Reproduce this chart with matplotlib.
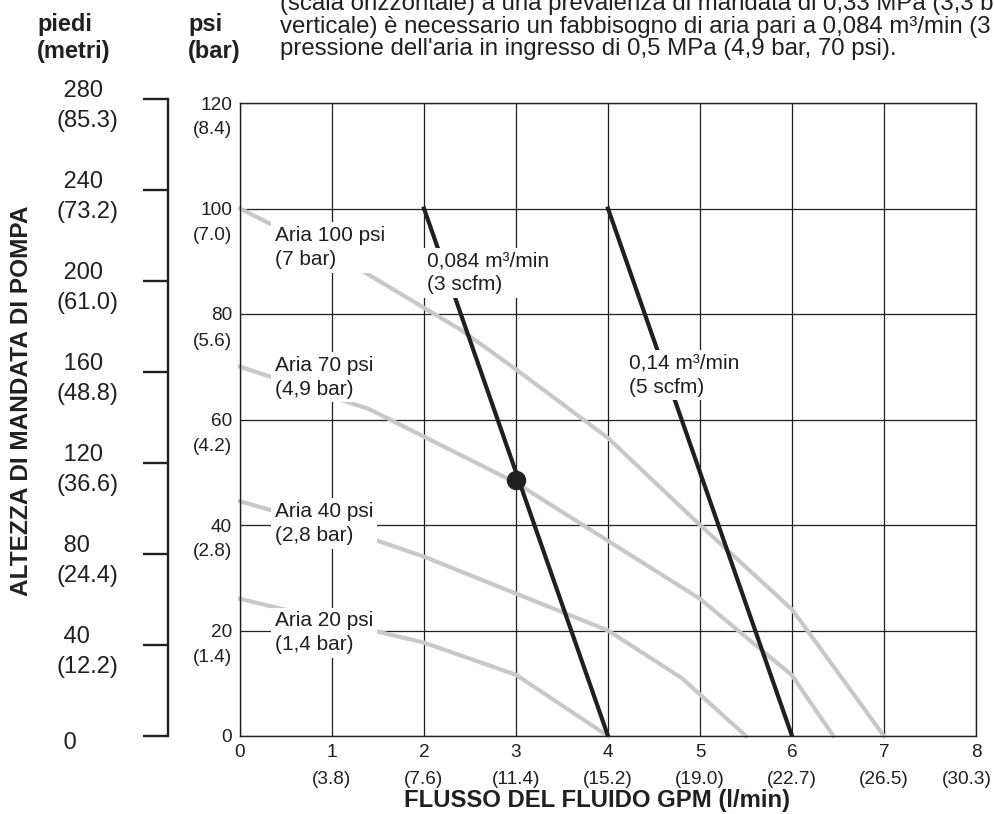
import matplotlib
matplotlib.use('Agg')
import matplotlib.pyplot as plt

plt.rcParams['font.family'] = ['Liberation Sans', 'DejaVu Sans']

# ---------------- data ----------------
flow_gpm = [0, 1, 2, 3, 4, 5, 6, 7, 8]
flow_lpm = ['', '(3.8)', '(7.6)', '(11.4)', '(15.2)', '(19.0)', '(22.7)', '(26.5)', '(30.3)']
psi_ticks = [0, 20, 40, 60, 80, 100, 120]
bar_labels = ['', '(1.4)', '(2.8)', '(4.2)', '(5.6)', '(7.0)', '(8.4)']
ft_ticks = [0, 40, 80, 120, 160, 200, 240, 280]
m_labels = ['', '(12.2)', '(24.4)', '(36.6)', '(48.8)', '(61.0)', '(73.2)', '(85.3)']

air100_x = [0, 1.25, 2.4, 3, 4, 5, 6, 7]
air100_y = [100, 89, 77, 69.5, 56.5, 40, 24, 0]
air70_x = [0, 1.4, 3, 4, 5, 6, 6.45]
air70_y = [70, 62, 48, 37, 26, 11.5, 0]
air40_x = [0, 1.5, 2, 3, 4, 4.8, 5.5]
air40_y = [44.5, 37, 34, 27, 20, 11, 0]
air20_x = [0, 2, 3, 4]
air20_y = [26, 17.7, 11.6, 0]

scfm3_x = [2, 4]
scfm3_y = [100, 0]
scfm5_x = [4, 6]
scfm5_y = [100, 0]

point_x = [3]
point_y = [48.5]

labels = [
    ('Aria 100 psi\n(7 bar)', 0.38, 92.6),
    ('Aria 70 psi\n(4,9 bar)', 0.38, 68.0),
    ('Aria 40 psi\n(2,8 bar)', 0.38, 40.3),
    ('Aria 20 psi\n(1,4 bar)', 0.38, 19.6),
    ('0,084 m³/min\n(3 scfm)', 2.03, 87.8),
    ('0,14 m³/min\n(5 scfm)', 4.23, 68.4),
]

header_lines = [
    "(scala orizzontale) a una prevalenza di mandata di 0,33 MPa (3,3 bar, 48 psi) (scala",
    "verticale) è necessario un fabbisogno di aria pari a 0,084 m³/min (3 scfm) a una",
    "pressione dell'aria in ingresso di 0,5 MPa (4,9 bar, 70 psi).",
]

# ---------------- styling ----------------
INK = '#231f20'
GRAY = '#c8c8c8'
W, H = 995, 814
PT = 0.72  # points per pixel at 100 dpi
TICK_FS = 13.7

fig = plt.figure(figsize=(W / 100, H / 100), dpi=100)
fig.patch.set_facecolor('white')

ax = fig.add_axes([240 / W, 1 - 736 / H, (976 - 240) / W, (736 - 103) / H])
ax.set_xlim(0, 8)
ax.set_ylim(0, 120)
ax.set_xticks(flow_gpm)
ax.set_xticklabels([str(v) for v in flow_gpm], fontsize=TICK_FS, color=INK)
ax.set_yticks(psi_ticks)
ax.set_yticklabels([str(v) for v in psi_ticks], fontsize=TICK_FS, color=INK)
ax.tick_params(axis='both', length=0)
ax.tick_params(axis='x', pad=8 * PT)
ax.tick_params(axis='y', pad=8 * PT)
ax.grid(True, color=INK, linewidth=0.9, zorder=0)
ax.set_axisbelow(True)
for s in ax.spines.values():
    s.set_color(INK)
    s.set_linewidth(1.0)

for xs, ys in [(air100_x, air100_y), (air70_x, air70_y), (air40_x, air40_y), (air20_x, air20_y)]:
    ax.plot(xs, ys, color=GRAY, linewidth=3.0, solid_joinstyle='miter', zorder=2, clip_on=False)
for xs, ys in [(scfm3_x, scfm3_y), (scfm5_x, scfm5_y)]:
    ax.plot(xs, ys, color=INK, linewidth=3.0, zorder=2.5)
ax.plot(point_x, point_y, 'o', color=INK, markersize=13, zorder=5)

for txt, x, y in labels:
    ax.text(x, y, txt, fontsize=15, color=INK, ha='left', va='center', linespacing=1.34,
            zorder=4, bbox=dict(facecolor='white', edgecolor='none', pad=2.5))

# bar labels below psi ticks
for v, lab in zip(psi_ticks, bar_labels):
    if lab:
        ax.annotate(lab, xy=(0, v), xycoords=ax.get_yaxis_transform(),
                    xytext=(-8 * PT, -27 * PT), textcoords='offset points',
                    ha='right', va='center', fontsize=TICK_FS, color=INK, annotation_clip=False)

# l/min labels below gpm ticks
for i, (v, lab) in enumerate(zip(flow_gpm, flow_lpm)):
    if lab:
        dx = -9 * PT if i == len(flow_gpm) - 1 else 0
        ax.annotate(lab, xy=(v, 0), xycoords=ax.get_xaxis_transform(),
                    xytext=(dx, -44 * PT), textcoords='offset points',
                    ha='center', va='center', fontsize=TICK_FS, color=INK, annotation_clip=False)

# feet / metres scale
ax_ft = fig.add_axes([168 / W, 1 - 736 / H, 10 / W, (736 - 99) / H])
ax_ft.set_ylim(0, 280)
ax_ft.patch.set_visible(False)
for k in ['top', 'right', 'bottom']:
    ax_ft.spines[k].set_visible(False)
ax_ft.spines['left'].set_color(INK)
ax_ft.spines['left'].set_linewidth(1.7)
ax_ft.set_xticks([])
ax_ft.set_yticks(ft_ticks)
ax_ft.set_yticklabels([''] * len(ft_ticks))
ax_ft.tick_params(axis='y', direction='out', length=25 * PT, width=1.7, color=INK)
for v, lab in zip(ft_ticks, m_labels):
    txt = ' ' + str(v) + ('\n' + lab if lab else '')
    ax_ft.annotate(txt, xy=(0, v), xycoords=ax_ft.get_yaxis_transform(),
                   xytext=(-111 * PT, -7 * PT), textcoords='offset points',
                   ha='left', va='center', fontsize=17, color=INK, linespacing=1.49,
                   annotation_clip=False)

# axis titles
fig.text(22 / W, 1 - 401 / H, 'ALTEZZA DI MANDATA DI POMPA', rotation=90,
         ha='center', va='center', fontsize=17.6, fontweight='bold', color=INK)
fig.text(597 / W, 1 - 800 / H, 'FLUSSO DEL FLUIDO GPM (l/min)',
         ha='center', va='center', fontsize=17.2, fontweight='bold', color=INK)

# unit headers
for x, t1, t2 in [(37, 'piedi', '(metri)'), (188, 'psi', '(bar)')]:
    fig.text(x / W, 1 - 31 / H, t1, ha='left', va='baseline', fontsize=17,
             fontweight='bold', color=INK)
    fig.text(x / W, 1 - 58 / H, t2, ha='left', va='baseline', fontsize=17,
             fontweight='bold', color=INK)

# explanatory text at top (clipped by the page edge, as in the source)
for yb, line in zip([10, 32.5, 55.5], header_lines):
    fig.text(280 / W, 1 - yb / H, line, ha='left', va='baseline', fontsize=17.3, color=INK)

fig.savefig('out.png', dpi=100, facecolor='white')
